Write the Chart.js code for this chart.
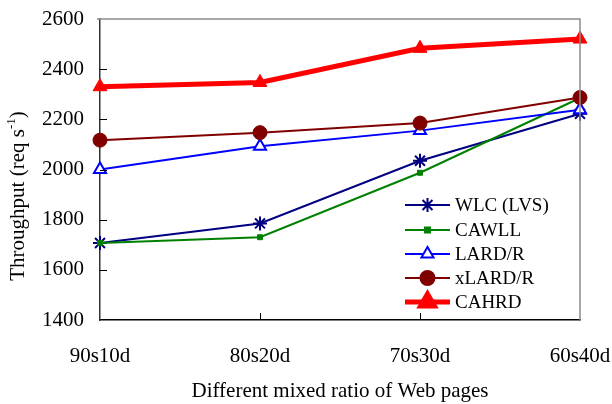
<!DOCTYPE html>
<html>
<head>
<meta charset="utf-8">
<script src="https://cdn.jsdelivr.net/npm/chart.js@4/dist/chart.umd.min.js"></script>
<style>
  html, body { margin: 0; padding: 0; background: #fff; }
  #wrap { width: 612px; height: 404px; }
</style>
</head>
<body>
<div id="wrap"><canvas id="c" width="612" height="404"></canvas></div>
<script>
// Mixed ratios of static / dynamic pages
const categories = ['90s10d', '80s20d', '70s30d', '60s40d'];

// Throughput (requests per second) for each dispatching policy
const wlcLvs = [1707, 1785, 2035, 2222];
const cawll  = [1707, 1730, 1987, 2285];
const lardR  = [2000, 2093, 2155, 2238];
const xlardR = [2117, 2147, 2185, 2287];
const cahrd  = [2330, 2347, 2483, 2520];

const seriesNames = ['WLC (LVS)', 'CAWLL', 'LARD/R', 'xLARD/R', 'CAHRD'];
const yTicks = [1400, 1600, 1800, 2000, 2200, 2400, 2600];

const FONT = "'Liberation Serif', 'Times New Roman', serif";

const datasets = [
  { label: seriesNames[0], data: wlcLvs, borderColor: '#000080', backgroundColor: '#000080',
    borderWidth: 2, pointStyle: 'star', pointRadius: 7, pointBorderWidth: 2, pointBorderColor: '#000080' },
  { label: seriesNames[1], data: cawll, borderColor: '#008000', backgroundColor: '#008000',
    borderWidth: 2, pointStyle: 'rect', pointRadius: 3.5, pointBorderWidth: 1, pointBorderColor: '#008000', pointBackgroundColor: '#008000' },
  { label: seriesNames[2], data: lardR, borderColor: '#0000ff', backgroundColor: '#ffffff',
    borderWidth: 2, pointStyle: 'triangle', pointRadius: 7, pointBorderWidth: 2, pointBorderColor: '#0000ff', pointBackgroundColor: '#ffffff' },
  { label: seriesNames[3], data: xlardR, borderColor: '#800000', backgroundColor: '#800000',
    borderWidth: 2, pointStyle: 'circle', pointRadius: 7, pointBorderWidth: 1, pointBorderColor: '#800000', pointBackgroundColor: '#800000' },
  { label: seriesNames[4], data: cahrd, borderColor: '#ff0000', backgroundColor: '#ff0000',
    borderWidth: 5, pointStyle: 'triangle', pointRadius: 8, pointBorderWidth: 1, pointBorderColor: '#ff0000', pointBackgroundColor: '#ff0000' }
].map((d, i) => Object.assign(d, { fill: false, tension: 0, clip: false, order: 10 - i }));

// Frame (gray top/right), inward tick marks, y-axis title and in-plot legend
const decorations = {
  id: 'decorations',
  afterDatasetsDraw(chart) {
    const { ctx, chartArea: a, scales } = chart;
    ctx.save();
    // gray top and right frame edges
    ctx.strokeStyle = '#8c8c8c';
    ctx.lineWidth = 1.5;
    ctx.beginPath();
    ctx.moveTo(a.left - 3, a.top);
    ctx.lineTo(a.right, a.top);
    ctx.lineTo(a.right, a.bottom);
    ctx.stroke();

    // inward tick marks
    ctx.strokeStyle = '#000';
    ctx.lineWidth = 1;
    ctx.beginPath();
    yTicks.slice(1, -1).forEach(v => {
      const y = Math.round(scales.y.getPixelForValue(v)) + 0.5;
      ctx.moveTo(a.left, y);
      ctx.lineTo(a.left + 7, y);
    });
    categories.slice(1, -1).forEach((c, i) => {
      const x = Math.round(scales.x.getPixelForValue(i + 1)) + 0.5;
      ctx.moveTo(x, a.bottom);
      ctx.lineTo(x, a.bottom - 7);
    });
    ctx.stroke();
    ctx.restore();
  },
  afterDraw(chart) {
    const { ctx } = chart;
    ctx.save();
    // y-axis title with superscript
    ctx.translate(17, 196);
    ctx.rotate(-Math.PI / 2);
    ctx.fillStyle = '#000';
    ctx.textBaseline = 'middle';
    const main = 'Throughput (req s';
    const sup = '-1';
    const tail = ')';
    ctx.font = '21px ' + FONT;
    const w1 = ctx.measureText(main).width;
    const w3 = ctx.measureText(tail).width;
    ctx.font = '13px ' + FONT;
    const w2 = ctx.measureText(sup).width;
    let x = -(w1 + w2 + w3) / 2;
    ctx.font = '21px ' + FONT;
    ctx.textAlign = 'left';
    ctx.fillText(main, x, 1);
    x += w1;
    ctx.font = '13px ' + FONT;
    ctx.fillText(sup, x, -5);
    x += w2;
    ctx.font = '21px ' + FONT;
    ctx.fillText(tail, x, 1);
    ctx.restore();

    // legend: line sample with marker, then label
    ctx.save();
    const x0 = 405, x1 = 450, tx = 455;
    const ys = [205, 230, 254, 278, 302];
    chart.data.datasets.forEach((d, i) => {
      const y = ys[i];
      ctx.strokeStyle = d.borderColor;
      ctx.lineWidth = d.borderWidth;
      ctx.beginPath();
      ctx.moveTo(x0, y);
      ctx.lineTo(x1, y);
      ctx.stroke();
      ctx.fillStyle = d.pointBackgroundColor || d.backgroundColor;
      ctx.strokeStyle = d.pointBorderColor;
      Chart.helpers.drawPoint(ctx, {
        pointStyle: d.pointStyle, radius: d.pointRadius, rotation: 0,
        borderWidth: d.pointBorderWidth
      }, (x0 + x1) / 2, y);
      ctx.fillStyle = '#000';
      ctx.font = '19px ' + FONT;
      ctx.textAlign = 'left';
      ctx.textBaseline = 'middle';
      ctx.fillText(d.label, tx, y + 1);
    });
    ctx.restore();
  }
};

new Chart(document.getElementById('c'), {
  type: 'line',
  data: { labels: categories, datasets },
  options: {
    responsive: false,
    animation: false,
    layout: { padding: { top: 19, right: 32, left: 0, bottom: 0 } },
    plugins: { legend: { display: false }, tooltip: { enabled: false } },
    scales: {
      x: {
        offset: false,
        grid: { display: false, drawTicks: false },
        border: { display: true, color: '#000', width: 1.5 },
        ticks: { color: '#000', font: { family: FONT, size: 21 }, padding: 24, maxRotation: 0, autoSkip: false },
        title: { display: true, text: 'Different mixed ratio of Web pages', color: '#000',
                 font: { family: FONT, size: 21 }, padding: { top: 0, bottom: 0 } },
        afterFit(scale) { scale.height = 84; scale.paddingLeft = 0; scale.paddingRight = 0; }
      },
      y: {
        min: 1400, max: 2600,
        afterBuildTicks(scale) { scale.ticks = yTicks.map(v => ({ value: v })); },
        grid: { display: false, drawTicks: false },
        border: { display: true, color: '#333', width: 1.5 },
        ticks: { color: '#000', font: { family: FONT, size: 21 }, padding: 16,
                 callback: v => String(v) },
        afterFit(scale) { scale.width = 100; scale.paddingTop = 0; scale.paddingBottom = 0; }
      }
    }
  },
  plugins: [decorations]
});
</script>
</body>
</html>
